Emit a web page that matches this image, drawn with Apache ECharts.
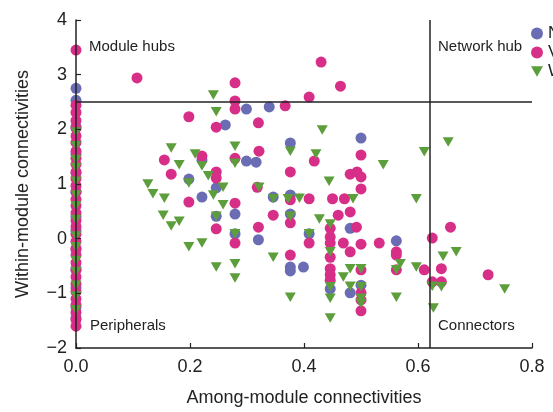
<!DOCTYPE html>
<html>
<head>
<meta charset="utf-8">
<script src="https://cdn.jsdelivr.net/npm/echarts@6/dist/echarts.min.js"></script>
<style>html,body{margin:0;padding:0;background:#fff;}#c{width:553px;height:412px;}</style>
</head>
<body>
<div id="c"></div>
<script>
// Series names (legend is clipped at the right edge in the reference)
const seriesNames = ['NS', 'VS', 'WS'];
const xTicks = [0.0, 0.2, 0.4, 0.6, 0.8];
const yTicks = [-2, -1, 0, 1, 2, 3, 4];
const hubThreshold = 2.5;     // within-module threshold line
const connThreshold = 0.622;  // among-module threshold line

// N (blue circles)
const nPoints = [
  [0, 2.75], [0, 2.53], [0, 2.05], [0, 1.55], [0, 1.2], [0, 0.85], [0, 0.4], [0, 0.15],
  [0, -0.2], [0, -0.55], [0, -0.9], [0, -1.25], [0, -1.45],
  [0.299, 2.37], [0.262, 2.08], [0.339, 2.41], [0.50, 1.84], [0.376, 1.75], [0.316, 1.40],
  [0.221, 1.44], [0.299, 1.42], [0.198, 1.09], [0.246, 0.93], [0.221, 0.76], [0.346, 0.76],
  [0.376, 0.80], [0.376, 0.45], [0.246, 0.41], [0.279, 0.45], [0.279, 0.09], [0.320, -0.02],
  [0.409, 0.09], [0.481, 0.19], [0.562, -0.04], [0.376, -0.52], [0.376, -0.59], [0.399, -0.52],
  [0.446, -0.92], [0.481, -0.99], [0.50, -0.85]
];

// V (magenta circles)
const vPoints = [
  [0, 3.45], [0, 2.44], [0, 2.31], [0, 2.16], [0, 2.02], [0, 1.88], [0, 1.76], [0, 1.6],
  [0, 1.47], [0, 1.36], [0, 1.22], [0, 1.1], [0, 0.97], [0, 0.86], [0, 0.72], [0, 0.6],
  [0, 0.47], [0, 0.33], [0, 0.22], [0, 0.08], [0, -0.05], [0, -0.18], [0, -0.3], [0, -0.44],
  [0, -0.58], [0, -0.7], [0, -0.83], [0, -0.97], [0, -1.1], [0, -1.21], [0, -1.35], [0, -1.48], [0, -1.6],
  [0.107, 2.94], [0.279, 2.85], [0.279, 2.52], [0.279, 2.37], [0.198, 2.23], [0.246, 2.04],
  [0.320, 2.12], [0.367, 2.43], [0.409, 2.59], [0.430, 3.23], [0.464, 2.79], [0.321, 1.60],
  [0.418, 1.42], [0.50, 1.53], [0.376, 1.22], [0.481, 1.18], [0.493, 1.22], [0.50, 1.13],
  [0.50, 0.91], [0.318, 0.94], [0.155, 1.44], [0.221, 1.51], [0.279, 1.47], [0.167, 1.18],
  [0.246, 1.22], [0.246, 1.11], [0.198, 0.67], [0.279, 0.65], [0.376, 0.71], [0.409, 0.73],
  [0.450, 0.73], [0.471, 0.73], [0.346, 0.43], [0.460, 0.43], [0.481, 0.49], [0.376, 0.29],
  [0.246, 0.18], [0.279, -0.08], [0.320, 0.21], [0.446, 0.19], [0.492, 0.21], [0.409, -0.08],
  [0.446, 0.03], [0.446, -0.08], [0.446, -0.34], [0.446, -0.55], [0.446, -0.66], [0.446, -0.76],
  [0.469, -0.08], [0.481, -0.24], [0.50, -0.10], [0.532, -0.08], [0.562, -0.24], [0.562, -0.30],
  [0.376, -0.30], [0.50, -0.57], [0.50, -0.99], [0.50, -1.12], [0.50, -1.32], [0.562, -0.57],
  [0.657, 0.21], [0.625, 0.01], [0.611, -0.57], [0.641, -0.55], [0.625, -0.79], [0.641, -0.79],
  [0.723, -0.66]
];

// W (green downward triangles)
const wPoints = [
  [0, 1.95], [0, 1.7], [0, 1.45], [0, 1.3], [0, 1.05], [0, 0.8], [0, 0.6], [0, 0.35],
  [0, 0.05], [0, -0.15], [0, -0.4], [0, -0.6], [0, -0.85], [0, -1.05], [0, -1.3],
  [0.241, 2.63], [0.246, 2.32], [0.432, 1.99], [0.376, 1.60], [0.421, 1.55], [0.539, 1.35],
  [0.444, 1.05], [0.321, 0.94], [0.346, 0.73], [0.372, 0.73], [0.392, 0.74], [0.486, 0.73],
  [0.376, 0.41], [0.427, 0.36], [0.446, 0.27], [0.409, 0.09], [0.446, -0.24], [0.346, -0.34],
  [0.481, -0.55], [0.50, -0.55], [0.469, -0.70], [0.481, -0.87], [0.446, -0.88], [0.50, -0.88],
  [0.376, -1.07], [0.446, -1.09], [0.50, -1.09], [0.50, -1.18], [0.446, -1.45], [0.562, -0.57],
  [0.562, -1.07], [0.569, -0.46], [0.597, -0.52], [0.597, 0.73], [0.611, 1.59], [0.653, 1.77],
  [0.667, -0.24], [0.644, -0.32], [0.625, -0.87], [0.641, -0.88], [0.627, -1.27], [0.752, -0.92],
  [0.167, 1.66], [0.279, 1.69], [0.209, 1.55], [0.181, 1.35], [0.221, 1.33], [0.279, 1.38],
  [0.232, 1.15], [0.198, 1.02], [0.258, 0.94], [0.126, 1.00], [0.135, 0.82], [0.155, 0.74],
  [0.241, 0.80], [0.258, 0.62], [0.153, 0.43], [0.181, 0.32], [0.167, 0.23], [0.198, -0.15],
  [0.221, -0.08], [0.246, 0.41], [0.279, 0.09], [0.246, -0.52], [0.279, -0.46], [0.279, -0.72]
];

const colors = ['#6a6cb4', '#d72f88', '#5c9e3b'];
const triDown = 'path://M0,0L10,0L5,8.66Z';
const fontFam = '"Liberation Sans", Arial, sans-serif';

const chart = echarts.init(document.getElementById('c'), null, {renderer: 'canvas'});
const textStyle = {fontFamily: fontFam, fontSize: 15, fill: '#222'};

chart.setOption({
  animation: false,
  backgroundColor: '#fff',
  textStyle: {fontFamily: fontFam},
  grid: {left: 76, right: 21, top: 20, bottom: 64, containLabel: false},
  legend: {
    orient: 'vertical',
    left: 531, top: 25, padding: 0,
    itemWidth: 12, itemHeight: 12, itemGap: 2,
    textStyle: {fontSize: 17, color: '#222', fontFamily: fontFam},
    data: [
      {name: seriesNames[0], icon: 'circle'},
      {name: seriesNames[1], icon: 'circle'},
      {name: seriesNames[2], icon: triDown}
    ]
  },
  xAxis: {
    type: 'value', min: xTicks[0], max: xTicks[xTicks.length - 1], interval: 0.2,
    name: 'Among-module connectivities', nameLocation: 'middle', nameGap: 41,
    nameTextStyle: {fontSize: 18, color: '#222', fontFamily: fontFam},
    axisLine: {onZero: false, lineStyle: {color: '#222', width: 1.5}},
    axisTick: {inside: true, length: 5, lineStyle: {color: '#222', width: 1.2}},
    axisLabel: {fontSize: 18, color: '#222', margin: 10, fontFamily: fontFam,
      formatter: v => v.toFixed(1)},
    splitLine: {show: false}
  },
  yAxis: {
    type: 'value', min: yTicks[0], max: yTicks[yTicks.length - 1], interval: 1,
    z: 10,
    name: 'Within-module connectivities', nameLocation: 'middle', nameGap: 44,
    nameTextStyle: {fontSize: 18, color: '#222', fontFamily: fontFam},
    axisLine: {onZero: false, lineStyle: {color: '#222', width: 1.5}},
    axisTick: {inside: true, length: 5, lineStyle: {color: '#222', width: 1.2}},
    axisLabel: {fontSize: 18, color: '#222', margin: 9, fontFamily: fontFam,
      formatter: v => (v < 0 ? '\u2212' + Math.abs(v) : String(v))},
    splitLine: {show: false}
  },
  series: [
    {
      name: seriesNames[0], type: 'scatter', data: nPoints, symbol: 'circle', symbolSize: 11,
      itemStyle: {color: colors[0], opacity: 1},
      markLine: {
        silent: true, symbol: ['none', 'none'], label: {show: false},
        lineStyle: {color: '#222', width: 1.5, type: 'solid'},
        data: [{yAxis: hubThreshold}, {xAxis: connThreshold}]
      }
    },
    {name: seriesNames[1], type: 'scatter', data: vPoints, symbol: 'circle', symbolSize: 11,
      itemStyle: {color: colors[1], opacity: 1}},
    {name: seriesNames[2], type: 'scatter', data: wPoints, symbol: triDown, symbolSize: [11, 9.5],
      itemStyle: {color: colors[2], opacity: 1}}
  ],
  graphic: [
    {type: 'text', left: 89, top: 39, style: Object.assign({text: 'Module hubs'}, textStyle)},
    {type: 'text', left: 438, top: 39, style: Object.assign({text: 'Network hub'}, textStyle)},
    {type: 'text', left: 90, top: 318, style: Object.assign({text: 'Peripherals'}, textStyle)},
    {type: 'text', left: 438, top: 318, style: Object.assign({text: 'Connectors'}, textStyle)}
  ]
});
</script>
</body>
</html>
